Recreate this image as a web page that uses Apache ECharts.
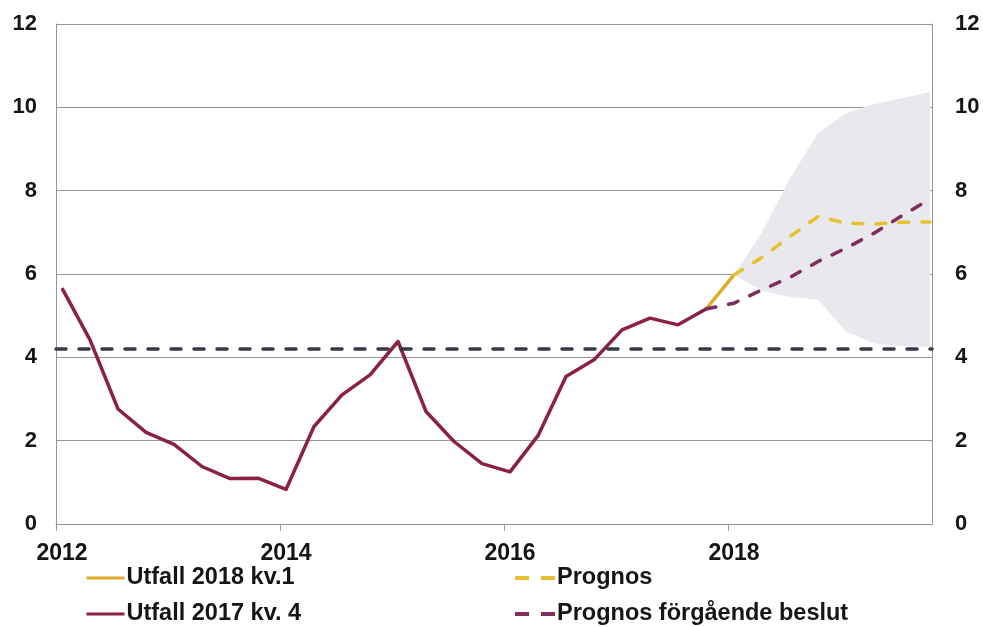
<!DOCTYPE html>
<html>
<head>
<meta charset="utf-8">
<script src="https://cdn.jsdelivr.net/npm/echarts@6/dist/echarts.min.js"></script>
<style>
    html, body { margin: 0; padding: 0; background: #fff; }
    #chart { width: 983px; height: 627px; }
</style>
</head>
<body>
<div id="chart"></div>
<script>
// quarters on the x axis, 2012 K1 .. 2019 K4
const quarters = [
    '2012K1', '2012K2', '2012K3', '2012K4', '2013K1', '2013K2', '2013K3', '2013K4',
    '2014K1', '2014K2', '2014K3', '2014K4', '2015K1', '2015K2', '2015K3', '2015K4',
    '2016K1', '2016K2', '2016K3', '2016K4', '2017K1', '2017K2', '2017K3', '2017K4',
    '2018K1', '2018K2', '2018K3', '2018K4', '2019K1', '2019K2', '2019K3', '2019K4'
]
const tickYears = ['2012', '2014', '2016', '2018']
const yTicks = [0, 2, 4, 6, 8, 10, 12]

// Utfall 2017 kv. 4 : 2012K1 .. 2017K4
const utfall2017 = [
    5.66, 4.42, 2.76, 2.20, 1.91, 1.38, 1.09, 1.10,
    0.83, 2.34, 3.10, 3.58, 4.38, 2.70, 1.98, 1.45,
    1.25, 2.12, 3.54, 3.94, 4.66, 4.94, 4.78, 5.16
]
// Utfall 2018 kv.1 : 2017K4 .. 2018K1
const utfall2018Start = '2017K4'
const utfall2018 = [5.16, 5.98]
// Prognos : 2018K1 .. 2019K4
const prognosStart = '2018K1'
const prognos = [5.98, 6.40, 6.90, 7.38, 7.22, 7.20, 7.24, 7.25]
// Prognos förgående beslut : 2017K4 .. 2019K4
const prevStart = '2017K4'
const prognosPrev = [5.16, 5.30, 5.62, 5.92, 6.30, 6.62, 6.98, 7.40, 7.80]
// uncertainty band : 2018K1 .. 2019K4
const bandStart = '2018K1'
const bandUpper = [5.98, 7.00, 8.30, 9.38, 9.86, 10.08, 10.22, 10.37]
const bandLower = [5.98, 5.60, 5.45, 5.38, 4.62, 4.33, 4.27, 4.25]
// horizontal reference level
const refLevel = 4.2

const font = '"Liberation Sans", Arial, sans-serif'
const gridColor = '#98949e'
const textColor = '#151515'
const tickShift = -6 / 28 // tick marks sit a little left of the first quarter

function pairs(start, values) {
    const i0 = quarters.indexOf(start)
    return values.map((v, i) => [i0 + i, v])
}

const chart = echarts.init(document.getElementById('chart'), null, { renderer: 'canvas' })

const labelIdx = tickYears.map(y => quarters.indexOf(y + 'K1'))
const bandData = bandUpper.map((u, i) => [quarters.indexOf(bandStart) + i, u, bandLower[i]])

function renderBand(params, api) {
    if (params.dataIndex !== 0) return
    const top = bandData.map(d => api.coord([d[0], d[1]]))
    const bottom = bandData.map(d => api.coord([d[0], d[2]])).reverse()
    return {
        type: 'polygon',
        shape: { points: top.concat(bottom) },
        style: { fill: '#e9e8ec', stroke: null }
    }
}

const legendText = { color: textColor, fontFamily: font, fontWeight: 'bold', fontSize: 23.5, lineHeight: 26, padding: [0, 0, 0, -3] }

const option = {
    animation: false,
    backgroundColor: '#fff',
    grid: { left: 56, right: 51, top: 24, bottom: 103 },
    xAxis: {
        type: 'value',
        min: tickShift,
        max: quarters.length - 1 + 0.07,
        axisLine: { show: true, lineStyle: { color: gridColor, width: 1 } },
        axisTick: {
            show: true,
            customValues: labelIdx.map(i => i + tickShift),
            length: 7,
            lineStyle: { color: gridColor }
        },
        axisLabel: {
            customValues: labelIdx,
            formatter: v => quarters[Math.round(v)].slice(0, 4),
            margin: 18,
            color: textColor,
            fontFamily: font,
            fontWeight: 'bold',
            fontSize: 23
        },
        splitLine: { show: false }
    },
    yAxis: [0, 1].map(k => ({
        type: 'value',
        position: k === 0 ? 'left' : 'right',
        min: yTicks[0],
        max: yTicks[yTicks.length - 1],
        interval: 2,
        axisLine: { show: true, onZero: false, lineStyle: { color: gridColor, width: 1 } },
        axisTick: { show: false },
        axisLabel: {
            margin: k === 0 ? 19 : 23,
            color: textColor,
            fontFamily: font,
            fontWeight: 'bold',
            fontSize: 22
        },
        splitLine: { show: k === 0, lineStyle: { color: gridColor, width: 1 } }
    })),
    legend: [
        {
            left: 85, top: 565, orient: 'vertical', padding: 0,
            itemWidth: 38, itemHeight: 14, itemGap: 10,
            itemStyle: { opacity: 0 },
            textStyle: legendText,
            data: [
                { name: 'Utfall 2018 kv.1', lineStyle: { width: 3 } },
                { name: 'Utfall 2017 kv. 4', lineStyle: { width: 3 } }
            ]
        },
        {
            left: 513, top: 565, orient: 'vertical', padding: 0,
            itemWidth: 40, itemHeight: 14, itemGap: 10,
            itemStyle: { opacity: 0 },
            textStyle: legendText,
            data: [
                { name: 'Prognos', lineStyle: { width: 4, type: [14, 12], cap: 'butt' } },
                { name: 'Prognos förgående beslut', lineStyle: { width: 4, type: [14, 12], cap: 'butt' } }
            ]
        }
    ],
    series: [
        {
            name: 'band',
            type: 'custom',
            silent: true,
            clip: true,
            renderItem: renderBand,
            encode: { x: 0, y: [1, 2] },
            data: bandData,
            z: 1
        },
        {
            name: 'Utfall 2018 kv.1',
            type: 'line',
            symbol: 'none',
            showSymbol: false,
            color: '#e1a928',
            lineStyle: { width: 3.5, color: '#e1a928' },
            data: pairs(utfall2018Start, utfall2018),
            z: 3
        },
        {
            name: 'Utfall 2017 kv. 4',
            type: 'line',
            symbol: 'none',
            showSymbol: false,
            color: '#8a2143',
            lineStyle: { width: 3.5, color: '#8a2143', join: 'round' },
            data: pairs(quarters[0], utfall2017),
            markLine: {
                silent: true,
                symbol: 'none',
                label: { show: false },
                lineStyle: { color: '#363a48', width: 3.5, type: [10, 13], cap: 'round' },
                data: [{ yAxis: refLevel }]
            },
            z: 4
        },
        {
            name: 'Prognos',
            type: 'line',
            symbol: 'none',
            showSymbol: false,
            color: '#e5c232',
            lineStyle: { width: 3.5, color: '#e5c232', type: [10, 13], cap: 'round' },
            data: pairs(prognosStart, prognos),
            z: 5
        },
        {
            name: 'Prognos förgående beslut',
            type: 'line',
            symbol: 'none',
            showSymbol: false,
            color: '#7e2d5c',
            lineStyle: { width: 3.5, color: '#7e2d5c', type: [10, 13], cap: 'round' },
            data: pairs(prevStart, prognosPrev),
            z: 6
        }
    ]
}

chart.setOption(option)
</script>
</body>
</html>
